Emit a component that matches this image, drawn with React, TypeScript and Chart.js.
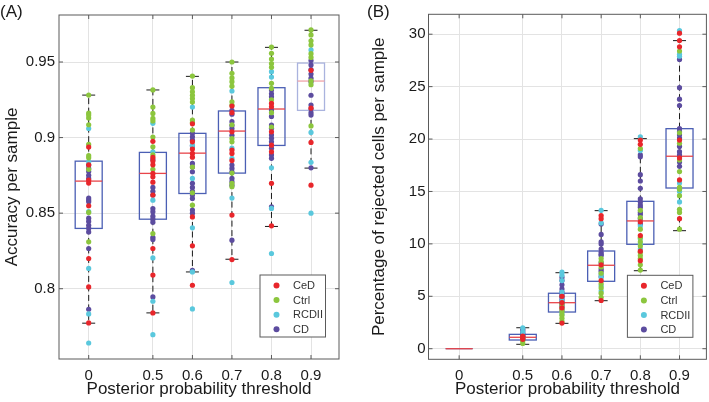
import React, { useEffect, useRef } from 'react';
import { Chart, registerables } from 'chart.js';

Chart.register(...registerables);

// ---------- data ----------
const thresholdLabels = ['0', '0.5', '0.6', '0.7', '0.8', '0.9'];
const thresholdPositions = [0.3376, 0.5, 0.6, 0.7, 0.8, 0.9];
const groupNames = ['CeD', 'Ctrl', 'RCDII', 'CD'];

// Panel A: accuracy per sample
const accTicks = [0.8, 0.85, 0.9, 0.95];
const accQ1 = [0.8399, 0.846, 0.863, 0.8765, 0.8948, 0.918];
const accMedian = [0.8712, 0.8763, 0.8897, 0.9043, 0.9189, 0.9374];
const accQ3 = [0.8844, 0.8902, 0.9028, 0.9176, 0.933, 0.9493];
const accLow = [0.7772, 0.784, 0.8111, 0.8195, 0.8412, 0.8798];
const accHigh = [0.9281, 0.9315, 0.9405, 0.95, 0.9597, 0.971];

const accCeD = [
  [0.8937, 0.882, 0.8718, 0.8699, 0.8549, 0.82, 0.8012, 0.7774],
  [0.8975, 0.8869, 0.8845, 0.882, 0.8763, 0.874, 0.8705, 0.862, 0.8266, 0.809, 0.784],
  [0.9091, 0.8972, 0.8924, 0.8895, 0.887, 0.8475, 0.8284, 0.8023],
  [0.9209, 0.9165, 0.9038, 0.8917, 0.8895, 0.8848, 0.8487, 0.8193],
  [0.9226, 0.9204, 0.9038, 0.895, 0.8906, 0.8697, 0.8416],
  [0.9445, 0.9195, 0.8968, 0.8685],
];
const accCtrl = [
  [0.9281, 0.9162, 0.915, 0.913, 0.9085, 0.8955, 0.888, 0.8866, 0.879, 0.8505, 0.831],
  [0.9315, 0.9202, 0.916, 0.9127, 0.911, 0.9003, 0.8939, 0.8885, 0.879, 0.8365],
  [0.9407, 0.933, 0.9303, 0.928, 0.9258, 0.9235, 0.9116, 0.91, 0.905, 0.8805, 0.8635, 0.8553],
  [0.95, 0.9425, 0.9395, 0.937, 0.934, 0.9237, 0.9215, 0.9085, 0.8994, 0.8972, 0.8765, 0.8697, 0.8675],
  [0.9599, 0.9558, 0.952, 0.949, 0.9465, 0.9359, 0.9326, 0.925, 0.9165, 0.907],
  [0.9712, 0.9679, 0.964, 0.9613, 0.9555, 0.953, 0.9375, 0.935, 0.9077],
];
const accRCDII = [
  [0.906, 0.884, 0.851, 0.8134, 0.7833, 0.7641],
  [0.9094, 0.8906, 0.8586, 0.8204, 0.7917, 0.7696],
  [0.9202, 0.895, 0.873, 0.8403, 0.8111, 0.7866],
  [0.9308, 0.893, 0.8862, 0.86, 0.8041],
  [0.9436, 0.94, 0.88, 0.8531, 0.8233],
  [0.958, 0.9034, 0.8836, 0.85],
];
const accCD = [
  [0.8818, 0.8796, 0.8775, 0.875, 0.873, 0.86, 0.8587, 0.8575, 0.8467, 0.8445, 0.842, 0.84, 0.8376, 0.8266, 0.7864],
  [0.8855, 0.867, 0.8645, 0.862, 0.853, 0.851, 0.848, 0.846, 0.844, 0.834, 0.8326, 0.7946],
  [0.9028, 0.9005, 0.8983, 0.8945, 0.8829, 0.8805, 0.8774, 0.8697, 0.867, 0.8645, 0.862, 0.8597, 0.852, 0.85, 0.8122],
  [0.918, 0.9155, 0.9105, 0.908, 0.906, 0.9015, 0.8818, 0.8796, 0.8774, 0.873, 0.8708, 0.8685, 0.8321],
  [0.9315, 0.929, 0.927, 0.9182, 0.914, 0.9083, 0.9061, 0.9017, 0.8995, 0.8972, 0.8929, 0.8885, 0.8863, 0.8542],
  [0.951, 0.948, 0.945, 0.942, 0.9393, 0.937, 0.928, 0.9215, 0.919, 0.9165, 0.9149, 0.88],
];

// Panel B: percentage of rejected cells per sample
const rejTicks = [0, 5, 10, 15, 20, 25, 30];
const rejQ1 = [0, 0.83, 3.5, 6.43, 9.96, 15.33];
const rejMedian = [0, 1.09, 4.39, 7.96, 12.19, 18.36];
const rejQ3 = [0, 1.37, 5.29, 9.32, 14.06, 20.99];
const rejLow = [0, 0.42, 2.42, 4.58, 7.44, 11.26];
const rejHigh = [0, 2.0, 7.25, 13.17, 20.04, 29.39];

const rejCeD = [
  [],
  [1.05, 0.9, 1.2],
  [2.45, 3.9, 4.4, 5.0],
  [12.7, 12.4, 8.0, 6.5, 4.6],
  [19.9, 19.5, 12.1, 10.8, 9.3, 8.4],
  [30.1, 29.4, 28.8, 19.9, 18.2, 16.1, 12.4],
];
const rejCtrl = [
  [],
  [0.5, 0.75, 1.1],
  [2.6, 2.9, 3.2, 3.5, 3.8, 4.2],
  [8.6, 8.3, 7.8, 7.2, 6.2, 5.8, 5.3, 4.9],
  [19.1, 13.2, 12.5, 11.4, 10.6, 10.2, 9.8, 9.2, 8.9, 8.6, 8.0, 7.5],
  [28.4, 20.6, 19.6, 18.0, 16.9, 15.4, 15.2, 14.6, 13.3, 13.0, 11.4],
];
const rejRCDII = [
  [],
  [2.0, 1.6, 0.95],
  [7.3, 7.0, 6.5, 5.4, 4.6, 3.3],
  [13.2, 12.0, 7.1, 6.8, 6.0, 5.5],
  [20.2, 18.9, 11.7, 10.5, 10.0, 9.5],
  [30.35, 28.1, 27.9, 15.8, 15.0, 14.0],
];
const rejCD = [
  [],
  [1.85, 1.7, 1.5, 1.4, 1.3, 1.2, 1.15, 1.0, 0.85],
  [6.8, 6.5, 6.1, 5.7, 5.4, 5.2, 5.0, 4.8, 4.6, 4.4, 4.2, 4.0, 3.7],
  [11.9, 10.9, 10.2, 10.0, 9.5, 9.2, 9.0, 8.9, 8.2, 7.6, 7.4, 6.9],
  [18.5, 18.3, 16.6, 16.0, 15.3, 14.3, 14.0, 13.7, 13.5, 13.0, 12.8, 12.4, 11.9],
  [27.6, 24.9, 23.8, 23.2, 21.0, 20.7, 20.4, 20.1, 19.3, 18.8, 18.5, 17.8, 17.4],
];

// ---------- styles ----------
const FONT = '"Liberation Sans", Arial, Helvetica, sans-serif';
const groupColors = ['#e8262b', '#8cc63e', '#5ac8dd', '#5c4c9f'];
const BOX_W = 27;
const CAP_W = 13;
const FRAME = '#5a5a5a';

type PanelCfg = {
  letter: string;
  yTitle: string;
  yTicks: number[];
  yMin: number;
  yMax: number;
  xMin: number;
  xMax: number;
  q1: number[];
  med: number[];
  q3: number[];
  low: number[];
  high: number[];
  points: number[][][];
  boxColors: string[];
  medColors: string[];
  axisW: number;
  padRight: number;
  padTop: number;
  axisH: number;
  yTitleX: number;
  letterX: number;
  tickPad: number;
};

function line(ctx: CanvasRenderingContext2D, x1: number, y1: number, x2: number, y2: number) {
  ctx.beginPath();
  ctx.moveTo(x1, y1);
  ctx.lineTo(x2, y2);
  ctx.stroke();
}

function buildConfig(c: PanelCfg): any {
  const datasets = groupNames.map((name, g) => ({
    label: name,
    data: c.points[g].flatMap((vals, i) => vals.map((v) => ({ x: thresholdPositions[i], y: v }))),
    backgroundColor: groupColors[g],
    borderWidth: 0,
    pointRadius: 2.6,
    pointHoverRadius: 2.6,
  }));

  const decor = {
    id: 'decor',
    beforeDatasetsDraw(chart: any) {
      const ctx: CanvasRenderingContext2D = chart.ctx;
      const xs = chart.scales.x;
      const ys = chart.scales.y;
      ctx.save();
      for (let i = 0; i < thresholdPositions.length; i++) {
        const cx = xs.getPixelForValue(thresholdPositions[i]);
        const pq1 = ys.getPixelForValue(c.q1[i]);
        const pq3 = ys.getPixelForValue(c.q3[i]);
        const pm = ys.getPixelForValue(c.med[i]);
        const pl = ys.getPixelForValue(c.low[i]);
        const ph = ys.getPixelForValue(c.high[i]);
        ctx.strokeStyle = '#1a1a1a';
        ctx.lineWidth = 1;
        ctx.setLineDash([6, 3.5]);
        if (c.high[i] > c.q3[i]) line(ctx, cx, pq3, cx, ph);
        if (c.low[i] < c.q1[i]) line(ctx, cx, pq1, cx, pl);
        ctx.setLineDash([]);
        if (c.high[i] > c.low[i]) {
          line(ctx, cx - CAP_W / 2, ph, cx + CAP_W / 2, ph);
          line(ctx, cx - CAP_W / 2, pl, cx + CAP_W / 2, pl);
        }
        ctx.strokeStyle = c.boxColors[i];
        ctx.lineWidth = 1.3;
        ctx.strokeRect(cx - BOX_W / 2, pq3, BOX_W, pq1 - pq3);
        ctx.strokeStyle = c.medColors[i];
        ctx.lineWidth = 1.3;
        line(ctx, cx - BOX_W / 2, pm, cx + BOX_W / 2, pm);
      }
      ctx.restore();
    },
    afterDraw(chart: any) {
      const ctx: CanvasRenderingContext2D = chart.ctx;
      const a = chart.chartArea;
      const xs = chart.scales.x;
      const ys = chart.scales.y;
      ctx.save();
      // frame
      ctx.strokeStyle = FRAME;
      ctx.lineWidth = 1;
      ctx.strokeRect(a.left, a.top, a.right - a.left, a.bottom - a.top);
      // inward ticks
      const TL = 4;
      thresholdPositions.forEach((p) => {
        const x = xs.getPixelForValue(p);
        line(ctx, x, a.bottom, x, a.bottom - TL);
        line(ctx, x, a.top, x, a.top + TL);
      });
      c.yTicks.forEach((v) => {
        const y = ys.getPixelForValue(v);
        line(ctx, a.left, y, a.left + TL, y);
        line(ctx, a.right, y, a.right - TL, y);
      });
      // legend
      const lw = 65.5;
      const lh = 62;
      const lx = a.right - 13.5 - lw;
      const ly = a.bottom - 22 - lh;
      ctx.fillStyle = '#ffffff';
      ctx.fillRect(lx, ly, lw, lh);
      ctx.strokeStyle = FRAME;
      ctx.strokeRect(lx, ly, lw, lh);
      ctx.font = `11px ${FONT}`;
      ctx.textAlign = 'left';
      ctx.textBaseline = 'middle';
      groupNames.forEach((name, g) => {
        const ry = ly + 10.5 + g * 14.6;
        ctx.fillStyle = groupColors[g];
        ctx.beginPath();
        ctx.arc(lx + 16.5, ry, 3, 0, Math.PI * 2);
        ctx.fill();
        ctx.fillStyle = '#333333';
        ctx.fillText(name, lx + 33, ry + 0.5);
      });
      // titles
      ctx.fillStyle = '#1a1a1a';
      ctx.font = `17px ${FONT}`;
      ctx.textAlign = 'center';
      ctx.textBaseline = 'alphabetic';
      ctx.fillText('Posterior probability threshold', (a.left + a.right) / 2, 393.5);
      ctx.save();
      ctx.translate(c.yTitleX, (a.top + a.bottom) / 2);
      ctx.rotate(-Math.PI / 2);
      ctx.textBaseline = 'middle';
      ctx.fillText(c.yTitle, 0, 0);
      ctx.restore();
      ctx.textAlign = 'left';
      ctx.fillText(c.letter, c.letterX, 17);
      ctx.restore();
    },
  };

  return {
    type: 'scatter',
    data: { datasets },
    plugins: [decor],
    options: {
      animation: false,
      responsive: true,
      maintainAspectRatio: false,
      events: [],
      layout: { padding: { left: 0, right: c.padRight, top: c.padTop, bottom: 0 } },
      plugins: { legend: { display: false }, tooltip: { enabled: false } },
      scales: {
        x: {
          type: 'linear',
          min: c.xMin,
          max: c.xMax,
          afterBuildTicks: (s: any) => {
            s.ticks = thresholdPositions.map((v) => ({ value: v }));
          },
          afterFit: (s: any) => {
            s.height = c.axisH;
          },
          ticks: {
            autoSkip: false,
            maxRotation: 0,
            padding: 8,
            color: '#1a1a1a',
            font: { size: 15, family: FONT },
            callback: (_v: any, i: number) => thresholdLabels[i],
          },
          grid: { color: '#e3e3e3', lineWidth: 1, drawTicks: false },
          border: { display: false },
        },
        y: {
          type: 'linear',
          min: c.yMin,
          max: c.yMax,
          afterBuildTicks: (s: any) => {
            s.ticks = c.yTicks.map((v) => ({ value: v }));
          },
          afterFit: (s: any) => {
            s.width = c.axisW;
          },
          ticks: {
            padding: c.tickPad,
            color: '#1a1a1a',
            font: { size: 15, family: FONT },
            callback: (v: any) => String(v),
          },
          grid: { color: '#e3e3e3', lineWidth: 1, drawTicks: false },
          border: { display: false },
        },
      },
    },
  };
}

const panelA: PanelCfg = {
  letter: '(A)',
  yTitle: 'Accuracy per sample',
  yTicks: accTicks,
  yMin: 0.7535,
  yMax: 0.9811,
  xMin: 0.2625,
  xMax: 0.9708,
  q1: accQ1,
  med: accMedian,
  q3: accQ3,
  low: accLow,
  high: accHigh,
  points: [accCeD, accCtrl, accRCDII, accCD],
  boxColors: ['#4b5fb4', '#4b5fb4', '#4b5fb4', '#4b5fb4', '#4b5fb4', '#aab3de'],
  medColors: ['#e8454a', '#e8454a', '#e8454a', '#e8454a', '#e8454a', '#efa3a8'],
  axisW: 59,
  padRight: 16,
  padTop: 15,
  axisH: 43,
  yTitleX: 12,
  letterX: 0,
  tickPad: 4,
};

const panelB: PanelCfg = {
  letter: '(B)',
  yTitle: 'Percentage of rejected cells per sample',
  yTicks: rejTicks,
  yMin: -1.01,
  yMax: 31.9,
  xMin: 0.2594,
  xMax: 0.9686,
  q1: rejQ1,
  med: rejMedian,
  q3: rejQ3,
  low: rejLow,
  high: rejHigh,
  points: [rejCeD, rejCtrl, rejRCDII, rejCD],
  boxColors: ['#4b5fb4', '#4b5fb4', '#4b5fb4', '#4b5fb4', '#4b5fb4', '#4b5fb4'],
  medColors: ['#e8454a', '#e8454a', '#e8454a', '#e8454a', '#e8454a', '#e8454a'],
  axisW: 73.5,
  padRight: 1.3,
  padTop: 14.3,
  axisH: 42.7,
  yTitleX: 24.2,
  letterX: 12,
  tickPad: 3,
};

function Panel({ left, width, cfg }: { left: number; width: number; cfg: PanelCfg }) {
  const ref = useRef<HTMLCanvasElement>(null);
  useEffect(() => {
    if (!ref.current) return;
    const chart = new Chart(ref.current, buildConfig(cfg));
    return () => chart.destroy();
  }, [cfg]);
  return (
    <div style={{ position: 'absolute', left, top: 0, width, height: 402 }}>
      <canvas ref={ref} />
    </div>
  );
}

export default function App() {
  return (
    <div style={{ position: 'absolute', left: 0, top: 0, width: 709, height: 402, background: '#fff' }}>
      <Panel left={0} width={355} cfg={panelA} />
      <Panel left={355} width={354} cfg={panelB} />
    </div>
  );
}
